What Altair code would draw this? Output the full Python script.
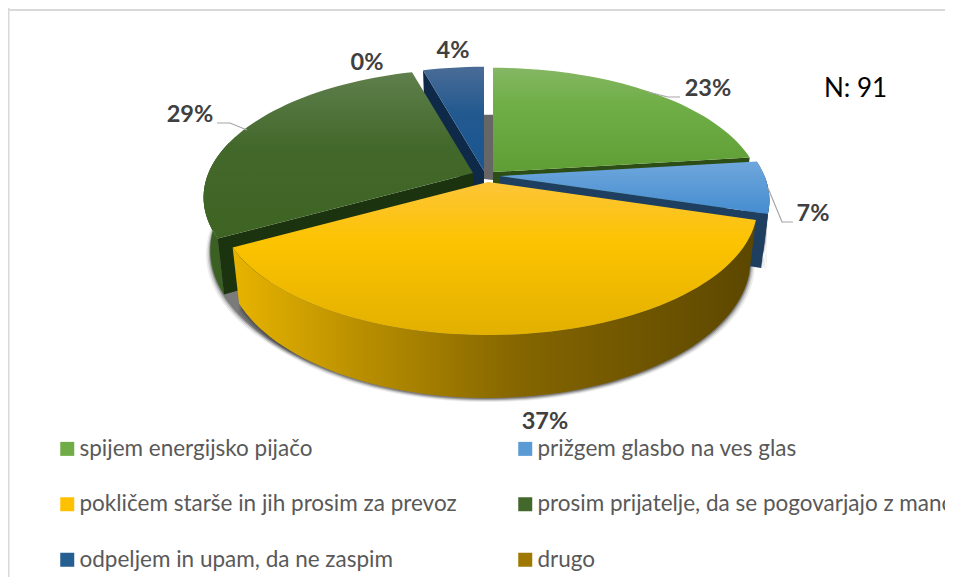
import math
import altair as alt
import pandas as pd

# ---- values (n = 91) ----
# legend is laid out column by column, so this is the reading order of its two columns
categories = ["spijem energijsko pijačo", "pokličem starše in jih prosim za prevoz",
              "odpeljem in upam, da ne zaspim", "prižgem glasbo na ves glas",
              "prosim prijatelje, da se pogovarjajo z mano", "drugo"]
legend_colors = ["#70ad47", "#ffc000", "#255e91", "#5b9bd5", "#43682b", "#9e7800"]
# clockwise from the top: green, light blue, yellow, dark green, drugo, navy
counts = [21, 6, 34, 26, 0, 4]
slice_labels = ["23%", "7%", "37%", "29%", "0%", "4%"]
note = "N: 91"

# ---- layout ----
W, H = 937, 569
R, S, K, T = 264.5, 124.0, 0.19, 51.0     # pie radius, depth radius, perspective, thickness
BOT = 0.975
apex = {0: (493, 172), 1: (500, 176), 2: (488, 182), 3: (473, 173), 5: (484, 171)}
label_pos = [(708, 89), (813, 214), (545, 422), (190, 115), (367, 63), (453, 51)]
leaders = [[(648, 92), (668, 97), (680, 97)],
           [(768, 188), (782, 222), (793, 222)],
           [(217, 123), (230, 123), (247, 130)]]

# slice angles follow the counts
total = sum(counts)
edges = [0.0]
for c in counts:
    edges.append(edges[-1] + c / total * 360)


def rim(i, th, low=False, grow=0.0, drop=0.0):
    ax, ay = apex[i]
    t = math.radians(th)
    sx, sy = math.sin(t), math.cos(t)
    d = 1 + K * sy
    if low:
        return (ax + (BOT + grow) * R * sx / d, ay + drop + (T - S * sy) / d)
    return (ax + R * sx / d, ay - S * sy / d)


def arc(i, a, b, **kw):
    n = max(2, int(abs(b - a) / 2) + 1)
    return [rim(i, a + (b - a) * k / (n - 1), **kw) for k in range(n)]


def v_grad(*stops):
    return {"gradient": "linear", "x1": 0, "x2": 0, "y1": 0, "y2": 1,
            "stops": [{"offset": o, "color": c} for o, c in stops]}


def h_grad(*stops):
    return {"gradient": "linear", "x1": 0, "x2": 1, "y1": 0, "y2": 0,
            "stops": [{"offset": o, "color": c} for o, c in stops]}


xs = alt.Scale(domain=[8, 8 + W], range=[0, W], zero=False, nice=False)
ys = alt.Scale(domain=[8 + H, 8], range=[H, 0], zero=False, nice=False)
X = alt.X("x:Q", scale=xs, axis=None)
Y = alt.Y("y:Q", scale=ys, axis=None)


def poly(pts, fill, opacity=1.0):
    df = pd.DataFrame({"x": [p[0] for p in pts], "y": [p[1] for p in pts],
                       "i": list(range(len(pts)))})
    return alt.Chart(df).mark_line(fill=fill, stroke="transparent", strokeWidth=0,
                                   fillOpacity=opacity).encode(x=X, y=Y, order="i:Q")


def apex_low(i):
    return (apex[i][0], apex[i][1] + T)


def face(i, a, b, fill):
    return poly([apex[i]] + arc(i, a, b), fill)


def outer(i, a, b, fill):
    return poly(arc(i, a, b) + arc(i, b, a, low=True), fill)


def radial(i, th, fill):
    return poly([apex[i], rim(i, th), rim(i, th, low=True), apex_low(i)], fill)


def shadow(i, a, b):
    out = []
    for g, dr, op in [(0.016, 4, 0.1), (0.01, 3, 0.18), (0.005, 2, 0.3), (0.002, 1, 0.4)]:
        out.append(poly(arc(i, a, b) + arc(i, b, a, low=True, grow=g, drop=dr), "#404040", op))
    return out


green, blue, yellow, dgreen, navy = 0, 1, 2, 3, 5
e = edges
layers = []

# hidden layer carrying the colour scale and the legend
leg_df = pd.DataFrame({"cat": categories, "x": [100] * 6, "y": [100] * 6})
layers.append(alt.Chart(leg_df).mark_square(opacity=0).encode(
    x=X, y=Y,
    color=alt.Color("cat:N", sort=categories,
                    scale=alt.Scale(domain=categories, range=legend_colors),
                    legend=alt.Legend(title=None, orient="none", legendX=48, legendY=429.5,
                                      columns=2, symbolType="square", symbolSize=196,
                                      symbolOpacity=1, symbolStrokeWidth=0, labelFont="Lato",
                                      labelFontSize=22.5, labelColor="#595959", labelLimit=1000,
                                      labelOffset=1, columnPadding=57, rowPadding=32.5,
                                      padding=0))))

# frame
layers.append(alt.Chart(pd.DataFrame({"a": [0]})).mark_rule(color="#d9d9d9", strokeWidth=1.5).encode(
    x=alt.value(0.75), y=alt.value(0), y2=alt.value(H)))
layers.append(alt.Chart(pd.DataFrame({"a": [0]})).mark_rule(color="#d9d9d9", strokeWidth=2).encode(
    y=alt.value(2), x=alt.value(0), x2=alt.value(W)))

# soft shadows
layers += shadow(dgreen, e[2], 285)
layers += shadow(blue, e[1], e[2])
layers += shadow(yellow, e[1] + 2, e[3] - 2)

# grey gap between the slices at the back
gap_top = rim(green, 0, low=True)[1] + 4
layers.append(poly([(apex[navy][0], gap_top), (apex[green][0], gap_top),
                    (apex[green][0], apex[green][1] + 8), (apex[navy][0], apex[navy][1] + 8)], "#666666"))

# navy
layers.append(radial(navy, e[5], "#0f2a48"))
layers.append(face(navy, e[5], 360, v_grad((0, "#4a6c97"), (0.45, "#22598f"), (1, "#1a5690"))))
# dark green
layers.append(outer(dgreen, e[3], 285, "#3a6122"))
layers.append(radial(dgreen, e[3], "#1c3310"))
layers.append(face(dgreen, e[3], e[4], v_grad((0, "#5f7f4c"), (0.45, "#43682b"), (1, "#3e6423"))))
# green
layers.append(radial(green, e[1], "#2d4d17"))
layers.append(face(green, e[0], e[1], v_grad((0, "#84b763"), (0.35, "#70ae47"), (1, "#5f9e35"))))
# blue
layers.append(outer(blue, 90, e[2], "#1d3d5c"))
layers.append(radial(blue, e[2], "#1f3f60"))
layers.append(face(blue, e[1], e[2], v_grad((0, "#6fa7dc"), (1, "#458dd0"))))
# yellow
layers.append(outer(yellow, e[2], e[3], h_grad((0, "#e8b400"), (0.25, "#b88e00"),
                                               (0.55, "#846500"), (1, "#5c4700"))))
layers.append(face(yellow, e[2], e[3], v_grad((0, "#fdc538"), (0.4, "#fcc300"), (1, "#e2b000"))))

# leader lines
for j, pts in enumerate(leaders):
    df = pd.DataFrame({"x": [p[0] for p in pts], "y": [p[1] for p in pts], "i": [0, 1, 2]})
    layers.append(alt.Chart(df).mark_line(color="#a6a6a6", strokeWidth=1.2).encode(x=X, y=Y, order="i:Q"))

# percentage labels
lab_df = pd.DataFrame({"t": slice_labels, "x": [p[0] for p in label_pos], "y": [p[1] for p in label_pos]})
layers.append(alt.Chart(lab_df).mark_text(font="Lato", fontWeight="bold", fontSize=23.5, color="#404040",
                                          align="center", baseline="middle").encode(x=X, y=Y, text="t:N"))

# note
note_df = pd.DataFrame({"t": [note], "x": [824], "y": [88.5]})
layers.append(alt.Chart(note_df).mark_text(font="Lato", fontSize=26, color="#000000",
                                           align="left", baseline="middle").encode(x=X, y=Y, text="t:N"))

chart = alt.layer(*layers).properties(
    width=W, height=H, padding=0, background="white",
    autosize=alt.AutoSizeParams(type="none", contains="padding"),
).configure_view(stroke=None)

chart.save("out.html", embed_options={"renderer": "svg", "actions": False})
